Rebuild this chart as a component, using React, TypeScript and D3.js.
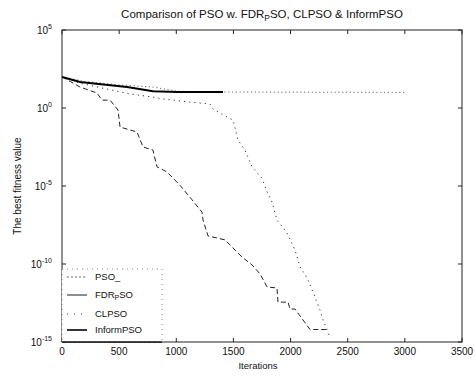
import React from "react";
import * as d3 from "d3";

const W = 475;
const H = 377;

const title = "Comparison of PSO w. FDR";
const xLabel = "Iterations";
const yLabel = "The best fitness value";
const xTicks = [0, 500, 1000, 1500, 2000, 2500, 3000, 3500];
const yTickExps = [5, 0, -5, -10, -15];

const psoIter = [0, 200, 500, 800, 1000, 1200, 1500, 2000, 2500, 3000];
const psoVal = [98, 50, 30, 22, 12, 11, 10.5, 10.3, 10.2, 10];

const informIter = [0, 158, 569, 796, 1006, 1409];
const informVal = [98, 47, 22, 12, 10.7, 10.7];

const fdrIter = [0, 158, 306, 350, 420, 490, 508, 656, 709, 796, 831, 919, 1033, 1138, 1225, 1234, 1278, 1426, 1575, 1663, 1733, 1794, 1881, 1890, 1978, 1995, 2039, 2170, 2319];
const fdrVal = [1e2, 2.2e1, 9.1e0, 3.2e0, 3.2e0, 7.4e-1, 6.0e-2, 2.9e-2, 3.2e-3, 2.0e-3, 1.7e-4, 7.9e-5, 1.1e-5, 1.3e-6, 2.1e-7, 6.6e-8, 6.3e-9, 3.5e-9, 2.8e-10, 8.7e-11, 2.3e-11, 3.4e-12, 2.9e-12, 3.6e-13, 3.6e-13, 1.3e-13, 1.3e-13, 6.3e-15, 6.3e-15];

const clIter = [0, 150, 400, 600, 788, 884, 1120, 1295, 1321, 1426, 1496, 1540, 1601, 1663, 1715, 1750, 1794, 1838, 1881, 1969, 2039, 2083, 2144, 2196, 2258, 2284, 2319, 2345];
const clVal = [1e2, 4e1, 1.6e1, 7.9e0, 5.1e0, 3.8e0, 2.4e0, 1.8e0, 8.7e-1, 3.1e-1, 1.7e-1, 8.9e-3, 2.0e-3, 1.7e-4, 5.9e-5, 3.2e-5, 4.2e-6, 9.3e-7, 6.6e-8, 9.8e-9, 7.9e-10, 6.5e-11, 1.3e-11, 1.6e-12, 1.1e-13, 2.6e-14, 6.3e-15, 1.8e-15];

const FONT = "'Liberation Sans', Arial, Helvetica, sans-serif";

export default function App() {
  const left = 62, right = 462, top = 30, bottom = 342;
  const x = d3.scaleLinear().domain([0, 3500]).range([left, right]);
  const y = d3.scaleLog().domain([1e-15, 1e5]).range([bottom, top]);
  const line = d3
    .line<[number, number]>()
    .x((d) => x(d[0]))
    .y((d) => y(d[1]));
  const zip = (a: number[], b: number[]) => a.map((v, i) => [v, b[i]] as [number, number]);

  const series = [
    { name: "pso", d: line(zip(psoIter, psoVal)), stroke: "#666", width: 1, dash: "1.2,2.6" },
    { name: "cl", d: line(zip(clIter, clVal)), stroke: "#333", width: 1, dash: "1.2,4" },
    { name: "fdr", d: line(zip(fdrIter, fdrVal)), stroke: "#222", width: 1, dash: "5,3" },
    { name: "inf", d: line(zip(informIter, informVal)), stroke: "#000", width: 2, dash: undefined },
  ];

  const legendRows = [
    { y: 277, dash: "2,2", stroke: "#666", width: 1 },
    { y: 295, dash: undefined, stroke: "#444", width: 1.2 },
    { y: 314, dash: "1,6", stroke: "#444", width: 1 },
    { y: 330, dash: undefined, stroke: "#000", width: 1.6 },
  ];

  return (
    <svg width={W} height={H} style={{ display: "block", position: "absolute", left: 0, top: 0, background: "#fff" }} fontFamily={FONT}>
      <rect x={0} y={0} width={W} height={H} fill="#fff" />
      {/* title */}
      <text x={262} y={18} textAnchor="middle" fontSize={11.5} fill="#111">
        {title}
        <tspan fontSize={8.5} dy={3}>P</tspan>
        <tspan dy={-3}>SO, CLPSO &amp; InformPSO</tspan>
      </text>

      {/* axes box */}
      <rect x={left} y={top} width={right - left} height={bottom - top} fill="none" stroke="#222" strokeWidth={1} />

      {/* x ticks */}
      {xTicks.map((t) => (
        <g key={"xt" + t}>
          <line x1={x(t)} x2={x(t)} y1={bottom} y2={bottom - 4} stroke="#222" />
          <line x1={x(t)} x2={x(t)} y1={top} y2={top + 4} stroke="#222" />
          <text x={x(t)} y={355} textAnchor="middle" fontSize={10} fill="#111">{t}</text>
        </g>
      ))}

      {/* y ticks */}
      {yTickExps.map((e) => (
        <g key={"yt" + e}>
          <line x1={left} x2={left + 4} y1={y(Math.pow(10, e))} y2={y(Math.pow(10, e))} stroke="#222" />
          <line x1={right} x2={right - 4} y1={y(Math.pow(10, e))} y2={y(Math.pow(10, e))} stroke="#222" />
          <text x={52} y={y(Math.pow(10, e)) + 4} textAnchor="end" fontSize={10} fill="#111">
            10
            <tspan fontSize={7} dy={-5}>{e}</tspan>
          </text>
        </g>
      ))}

      {/* axis labels */}
      <text x={258} y={369} textAnchor="middle" fontSize={9.5} fill="#111">{xLabel}</text>
      <text transform={`translate(21,186) rotate(-90)`} textAnchor="middle" fontSize={10} fill="#111">{yLabel}</text>

      {/* series */}
      <g clipPath="url(#plotclip)">
        {series.map((s) => (
          <path key={s.name} d={s.d || ""} fill="none" stroke={s.stroke} strokeWidth={s.width} strokeDasharray={s.dash} />
        ))}
      </g>
      <defs>
        <clipPath id="plotclip">
          <rect x={left} y={top} width={right - left} height={bottom - top} />
        </clipPath>
      </defs>

      {/* legend */}
      <rect x={left} y={269} width={100} height={bottom - 269} fill="#fff" stroke="#666" strokeWidth={0.8} strokeDasharray="1,4" />
      <line x1={left} x2={left + 100} y1={bottom} y2={bottom} stroke="#111" strokeWidth={1.6} />
      {legendRows.map((r, i) => (
        <line key={"lg" + i} x1={67} x2={87} y1={r.y} y2={r.y} stroke={r.stroke} strokeWidth={r.width} strokeDasharray={r.dash} />
      ))}
      <text x={95} y={280} fontSize={9.5} fill="#111">PSO_</text>
      <text x={95} y={298} fontSize={9.5} fill="#111">
        FDR<tspan fontSize={7} dy={2}>P</tspan><tspan dy={-2}>SO</tspan>
      </text>
      <text x={95} y={317} fontSize={9.5} fill="#111">CLPSO</text>
      <text x={95} y={333} fontSize={9.5} fill="#111">InformPSO</text>
    </svg>
  );
}
